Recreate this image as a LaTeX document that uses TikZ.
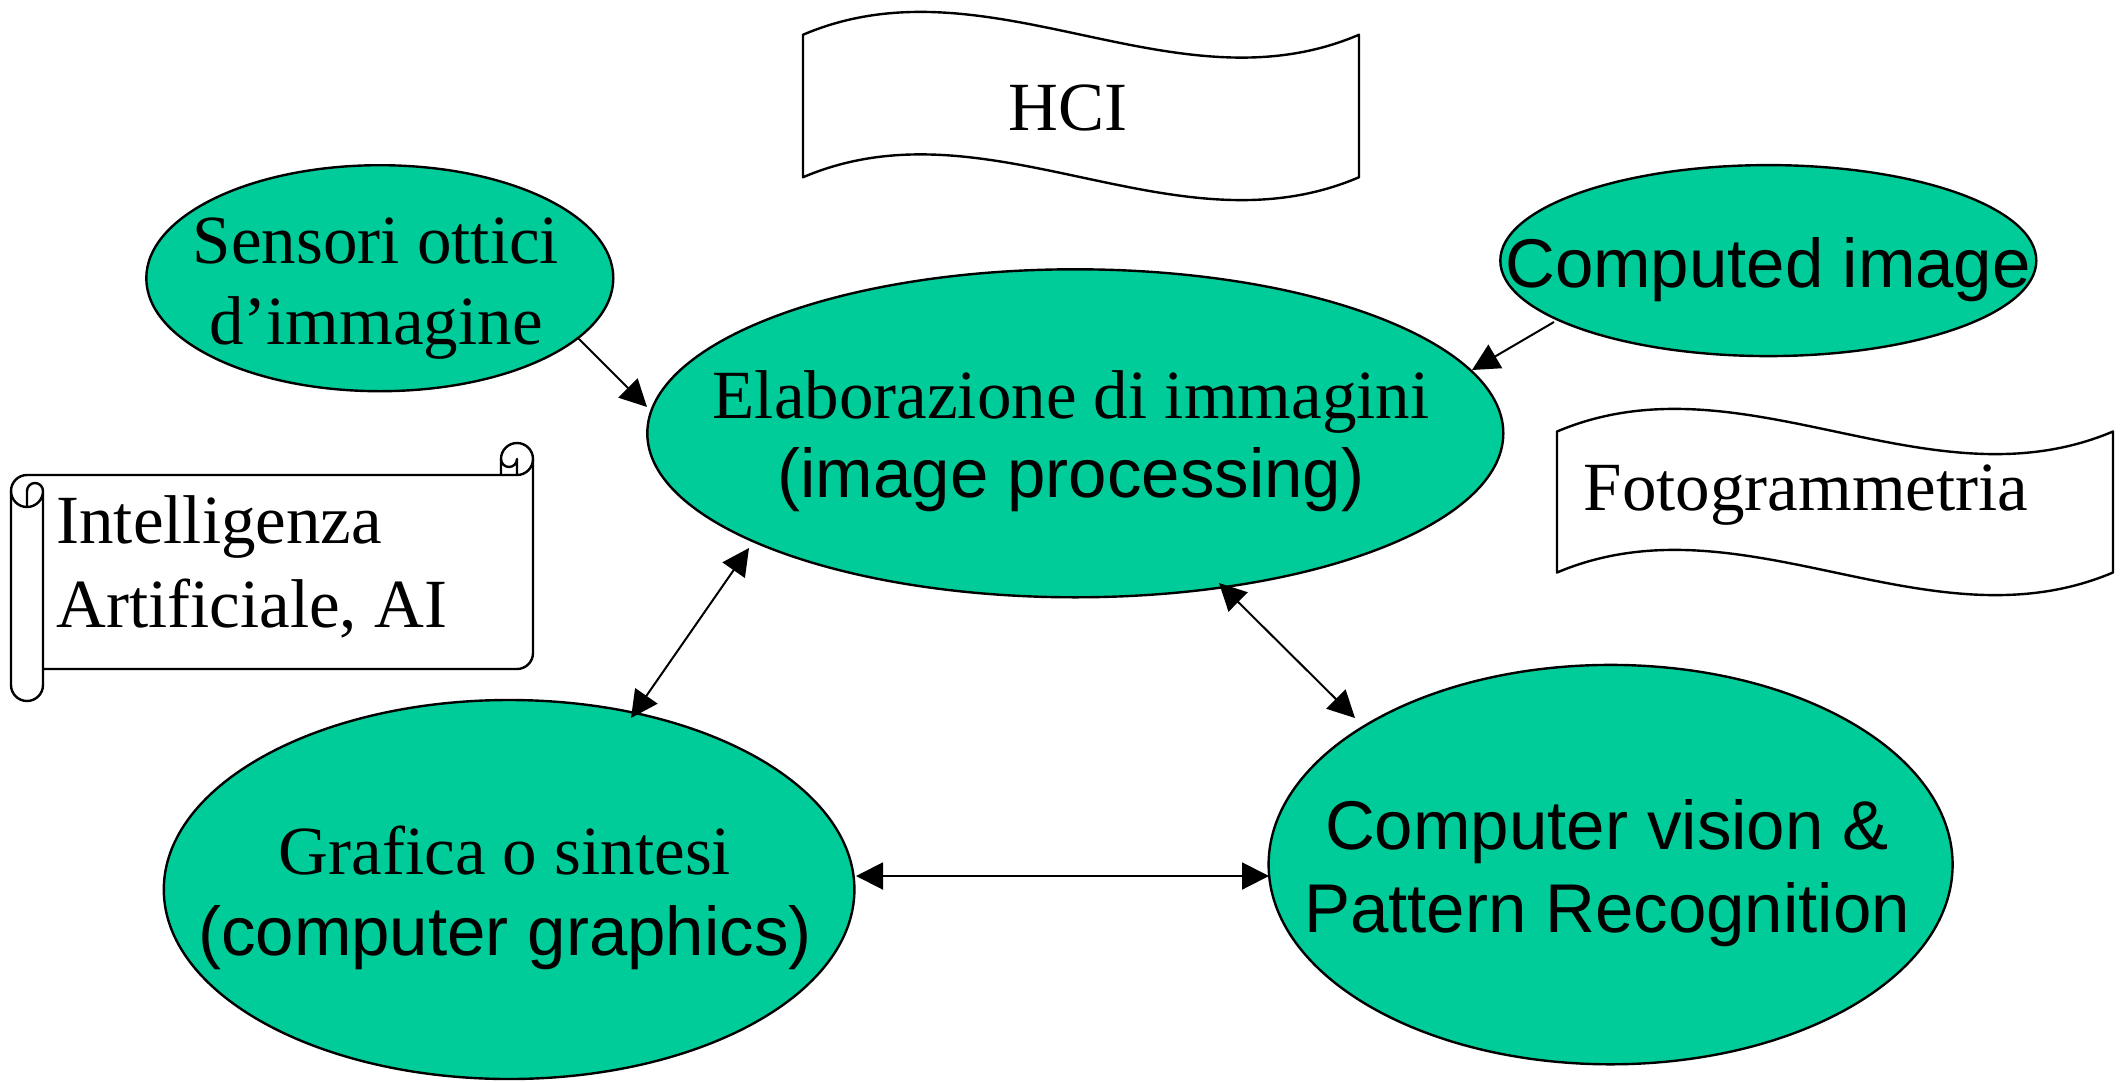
\documentclass[tikz,border=0pt]{standalone}
\usepackage{fontspec}
\setmainfont{Liberation Serif}
\newfontfamily\arialfam{Liberation Sans}
\usetikzlibrary{arrows.meta,shapes.geometric,calc}
\definecolor{blobgreen}{RGB}{0,204,153}

\tikzset{
  blob/.style={ellipse, draw=black, line width=1.2pt, fill=blobgreen, inner sep=0pt},
  lbl/.style={inner sep=0pt, font=\fontsize{34.5}{40}\selectfont},
  link/.style={line width=1pt, -{Triangle[length=13.5pt,width=13.5pt]}},
  duplex/.style={line width=1pt,
    {Triangle[length=13.5pt,width=13.5pt]}-{Triangle[length=13.5pt,width=13.5pt]}},
  banner/.style={draw=black, line width=1.2pt, fill=white, line join=round},
}

% wave-shaped banner: left, top, width, height
\newcommand\wavebanner[4]{%
  \draw[banner] (#1,{#2+0.125*#4})
    .. controls ({#1+#3/3},{#2+0.125*#4-0.4167*#4}) and ({#1+2*#3/3},{#2+0.125*#4+0.4167*#4}) ..
    ({#1+#3},{#2+0.125*#4}) -- ({#1+#3},{#2+0.875*#4})
    .. controls ({#1+2*#3/3},{#2+0.875*#4+0.4167*#4}) and ({#1+#3/3},{#2+0.875*#4-0.4167*#4}) ..
    (#1,{#2+0.875*#4}) -- cycle;}

\begin{document}
\begin{tikzpicture}[x=0.5pt,y=-0.5pt]
\useasboundingbox (0,0) rectangle (2123,1081);

% ---- banners ----
\wavebanner{803}{11}{556}{190}
\node[lbl, anchor=base] (hci) at (1068,131) {HCI};

\wavebanner{1557}{408}{556}{188}
\node[lbl, anchor=base] (foto) at (1806,510) {Fotogrammetria};

% ---- horizontal scroll ----
\begin{scope}[shift={(11,443)}]
  \draw[banner]
    (0,48) arc[start angle=180, delta angle=90, radius=16]
    -- (490,32) -- (490,16) arc[start angle=180, delta angle=180, radius=16]
    -- (522,210) arc[start angle=0, delta angle=90, radius=16]
    -- (32,226) -- (32,242) arc[start angle=0, delta angle=180, radius=16]
    -- cycle;
  \draw[line width=1.2pt, line join=round]
    (490,32) -- (506,32) arc[start angle=90, delta angle=-90, radius=16]
    (506,32) -- (506,16) arc[start angle=0, delta angle=180, radius=8]
    (16,64) -- (16,48) arc[start angle=180, delta angle=180, radius=8]
      arc[start angle=0, delta angle=180, radius=16]
    (32,48) -- (32,226);
\end{scope}
\node[lbl, anchor=west, align=left, font=\fontsize{34.5}{42}\selectfont] (ai) at (56,566.5)
  {Intelligenza\\Artificiale, AI};

% ---- topic ellipses ----
\node[blob, minimum width=233.5pt, minimum height=113pt] (sens) at (379.8,278.2) {};
\node[blob, minimum width=428pt, minimum height=164pt] (elab) at (1075.3,433.3) {};
\node[blob, minimum width=268pt, minimum height=95.5pt] (comp) at (1768.3,260.6) {};
\node[blob, minimum width=345.3pt, minimum height=189.5pt] (graf) at (509.1,889.5) {};
\node[blob, minimum width=342pt, minimum height=199.7pt] (cv) at (1610.6,864.6) {};

\node[lbl, align=center, font=\fontsize{34.5}{40.5}\selectfont] (senstxt) at (376,288.5)
  {Sensori ottici\\d’immagine};
\node[lbl, align=center, font=\fontsize{34.5}{39.5}\selectfont] (elabtxt) at (1071,441)
  {Elaborazione di immagini\\{\arialfam (image processing)}};
\node[lbl, anchor=base, font=\fontsize{34.5}{40}\arialfam] (comptxt) at (1768,287)
  {Computed image};
\node[lbl, align=center, font=\fontsize{34.5}{40.5}\selectfont] (graftxt) at (505,898)
  {Grafica o sintesi\\{\arialfam (computer graphics)}};
\node[lbl, align=center, font=\fontsize{34.5}{41.5}\arialfam] (cvtxt) at (1607,873)
  {Computer vision \&\\Pattern Recognition};

% ---- connectors, ends placed on the ellipse rims ----
\draw[link] ($(sens.center)+(198.2,59.8)$) -- ($(elab.center)+(-428.3,-26.3)$);
\draw[link] ($(comp.center)+(-214.3,61.4)$) -- ($(elab.center)+(396.7,-63.3)$);
\draw[duplex] ($(elab.center)+(-326.3,114.7)$) -- ($(graf.center)+(121.9,-171.5)$);
\draw[duplex] ($(elab.center)+(143.7,149.7)$) -- ($(cv.center)+(-255.6,-146.6)$);
\draw[duplex] ($(graf.center)+(346.9,-13.5)$) -- ($(cv.center)+(-341.6,11.4)$);
\end{tikzpicture}
\end{document}
